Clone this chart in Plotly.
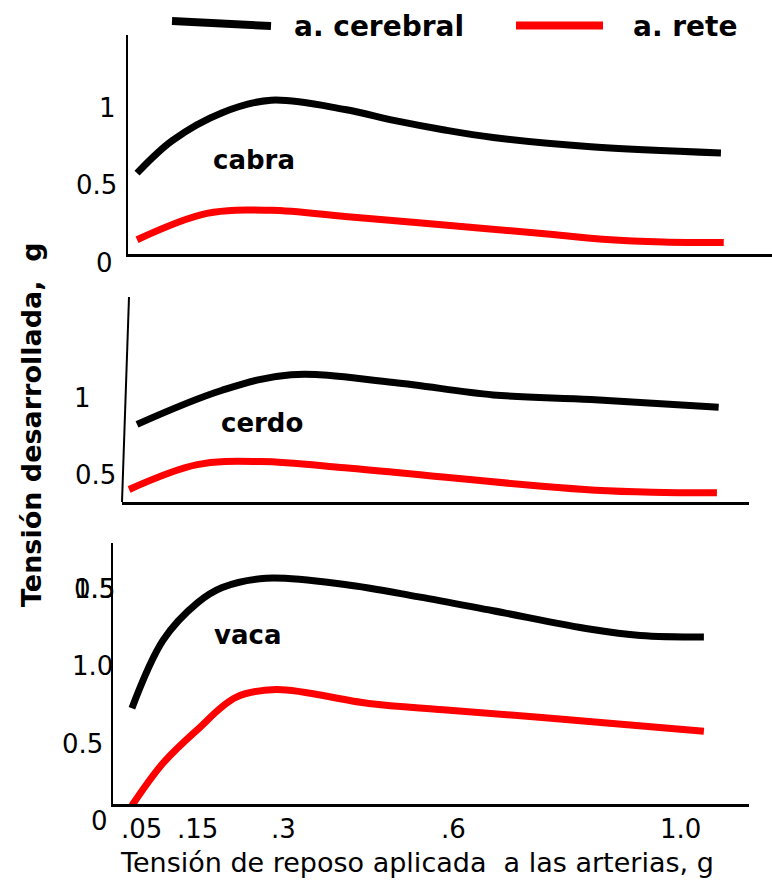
import plotly.graph_objects as go

# ---------------- data ----------------
x_cabra_cer = [0.043, 0.105, 0.193, 0.279, 0.409, 0.495, 0.582, 0.670, 0.842, 1.071]
y_cabra_cer = [0.58, 0.79, 0.97, 1.05, 0.99, 0.92, 0.86, 0.81, 0.75, 0.71]
x_cabra_rete = [0.043, 0.166, 0.279, 0.409, 0.539, 0.756, 0.87, 0.97, 1.076]
y_cabra_rete = [0.15, 0.32, 0.34, 0.30, 0.26, 0.19, 0.152, 0.136, 0.132]

x_cerdo_cer = [0.043, 0.193, 0.314, 0.495, 0.670, 0.842, 1.067]
y_cerdo_cer = [0.83, 1.05, 1.15, 1.10, 1.02, 0.99, 0.94]
x_cerdo_rete = [0.029, 0.149, 0.261, 0.409, 0.582, 0.756, 0.85, 0.95, 1.064]
y_cerdo_rete = [0.41, 0.57, 0.59, 0.55, 0.49, 0.43, 0.405, 0.392, 0.388]

x_vaca_cer = [0.034, 0.089, 0.149, 0.193, 0.270, 0.409, 0.539, 0.670, 0.842, 0.929, 1.041]
y_vaca_cer = [0.73, 1.17, 1.41, 1.51, 1.57, 1.53, 1.45, 1.36, 1.24, 1.20, 1.19]
x_vaca_rete = [0.034, 0.089, 0.149, 0.217, 0.288, 0.451, 0.582, 0.756, 1.041]
y_vaca_rete = [0.10, 0.375, 0.59, 0.80, 0.85, 0.76, 0.72, 0.67, 0.58]

x_tick_vals = [0.05, 0.15, 0.3, 0.6, 1.0]
x_tick_text = [".05", ".15", ".3", ".6", "1.0"]

y_ticks_cabra = [0, 0.5, 1]
y_ticks_cabra_text = ["0", "0.5", "1"]
y_ticks_cerdo = [0.5, 1]
y_ticks_cerdo_text = ["0.5", "1"]
y_ticks_vaca = [0, 0.5, 1.0, 1.5, 1.5]
y_ticks_vaca_text = ["0", "0.5", "1.0", "1.5", "0.5"]

series_names = ["a. cerebral", "a. rete"]
panel_names = ["cabra", "cerdo", "vaca"]

# ---------------- style ----------------
W, H = 772, 880
FONT = "DejaVu Sans, sans-serif"
BLACK = "#000000"
RED = "#ff0000"
LW = 7


def px(x):
    return x / W


def py(y):
    return 1 - y / H


fig = go.Figure()

panels = [
    (x_cabra_cer, y_cabra_cer, x_cabra_rete, y_cabra_rete, "x", "y"),
    (x_cerdo_cer, y_cerdo_cer, x_cerdo_rete, y_cerdo_rete, "x2", "y2"),
    (x_vaca_cer, y_vaca_cer, x_vaca_rete, y_vaca_rete, "x3", "y3"),
]
for xc, yc, xr_, yr_, xa, ya in panels:
    fig.add_trace(go.Scatter(x=xc, y=yc, mode="lines", xaxis=xa, yaxis=ya,
                             line=dict(color=BLACK, width=LW, shape="spline", smoothing=1.0),
                             showlegend=False, hoverinfo="skip"))
    fig.add_trace(go.Scatter(x=xr_, y=yr_, mode="lines", xaxis=xa, yaxis=ya,
                             line=dict(color=RED, width=LW, shape="spline", smoothing=1.0),
                             showlegend=False, hoverinfo="skip"))

# x mapping: 0 -> 112.6 px, 568 px per unit
X0, XS = 112.6, 568.0


def xr(L, R):
    return [(L - X0) / XS, (R - X0) / XS]


common_x = dict(showgrid=False, zeroline=False, showticklabels=False, ticks="",
                showline=True, linecolor=BLACK, linewidth=2.5, fixedrange=True)
common_y = dict(showgrid=False, zeroline=False, showticklabels=False, ticks="", fixedrange=True)

y_dom = {
    "y": [py(254), py(35)],
    "y2": [py(502), py(297)],
    "y3": [py(804), py(543)],
}
y_rng = {
    "y": [(263 - 254) / 155, (263 - 35) / 155],
    "y2": [(553 - 502) / 155, (553 - 297) / 155],
    "y3": [(821 - 804) / 154.6, (821 - 543) / 154.6],
}

fig.update_layout(
    width=W, height=H,
    margin=dict(l=0, r=0, t=0, b=0),
    paper_bgcolor="white", plot_bgcolor="white",
    font=dict(family=FONT, color=BLACK),
    xaxis=dict(domain=[px(128), px(772)], range=xr(128, 772), anchor="y", **common_x),
    yaxis=dict(domain=y_dom["y"], range=y_rng["y"], anchor="x",
               showline=True, linecolor=BLACK, linewidth=2, **common_y),
    xaxis2=dict(domain=[px(122), px(749)], range=xr(122, 749), anchor="y2", **common_x),
    yaxis2=dict(domain=y_dom["y2"], range=y_rng["y2"], anchor="x2",
                showline=False, **common_y),
    xaxis3=dict(domain=[px(113), px(749)], range=xr(113, 749), anchor="y3", **common_x),
    yaxis3=dict(domain=y_dom["y3"], range=y_rng["y3"], anchor="x3",
                showline=True, linecolor=BLACK, linewidth=2, **common_y),
)


def val_to_paper(v, ax):
    """Map a value on y-axis `ax` to paper coordinates (same linear map as the axis)."""
    d0, d1 = y_dom[ax]
    r0, r1 = y_rng[ax]
    return d0 + (v - r0) / (r1 - r0) * (d1 - d0)


# slanted hand-drawn y axis of the middle panel
fig.add_shape(type="line", xref="paper", yref="paper",
              x0=px(129), y0=py(297), x1=px(122), y1=py(502),
              line=dict(color=BLACK, width=2))

annotations = []
TICK_FONT = dict(family=FONT, size=26, color=BLACK)

# y tick labels (placed on each panel's own y scale)
for ticks, texts, xs, ax in [
    (y_ticks_cabra, y_ticks_cabra_text, [104, 96, 107], "y"),
    (y_ticks_cerdo, y_ticks_cerdo_text, [95, 82], "y2"),
    (y_ticks_vaca, y_ticks_vaca_text, [99, 82, 92, 94, 94], "y3"),
]:
    for v, t, xp in zip(ticks, texts, xs):
        annotations.append(dict(x=px(xp), xref="paper", y=val_to_paper(v, ax), yref="paper",
                                text=t, showarrow=False, xanchor="center", yanchor="middle",
                                font=TICK_FONT))

# x tick labels (bottom panel)
for v, t in zip(x_tick_vals, x_tick_text):
    annotations.append(dict(x=v, xref="x3", y=py(829), yref="paper", text=t, showarrow=False,
                            xanchor="center", yanchor="middle", font=TICK_FONT))

# axis titles
annotations.append(dict(x=px(417), xref="paper", y=py(862), yref="paper",
                        text="Tensión de reposo aplicada\u00a0 a las arterias, g", showarrow=False,
                        xanchor="center", yanchor="middle",
                        font=dict(family=FONT, size=27, color=BLACK)))
annotations.append(dict(x=px(32), xref="paper", y=py(425), yref="paper",
                        text="<b>Tensión desarrollada,\u00a0 g</b>", showarrow=False, textangle=-90,
                        xanchor="center", yanchor="middle",
                        font=dict(family=FONT, size=27, color=BLACK)))

# panel labels
for name, (xp, yp) in zip(panel_names, [(254, 160), (262, 423), (247, 635)]):
    annotations.append(dict(x=px(xp), xref="paper", y=py(yp), yref="paper",
                            text="<b>" + name + "</b>", showarrow=False,
                            xanchor="center", yanchor="middle",
                            font=dict(family=FONT, size=26, color=BLACK)))

# legend (drawn manually: long line samples)
fig.add_shape(type="line", xref="paper", yref="paper", x0=px(172), y0=py(21), x1=px(271), y1=py(26),
              line=dict(color=BLACK, width=8))
fig.add_shape(type="line", xref="paper", yref="paper", x0=px(516), y0=py(25.5), x1=px(603), y1=py(25.5),
              line=dict(color=RED, width=8))
for name, xp in zip(series_names, [292, 631]):
    annotations.append(dict(x=px(xp), xref="paper", y=py(27), yref="paper",
                            text="<b>" + name + "</b>", showarrow=False,
                            xanchor="left", yanchor="middle",
                            font=dict(family=FONT, size=28, color=BLACK)))

fig.update_layout(annotations=annotations)
fig.write_html("out.html", config={"displayModeBar": False},
               post_script="document.body.style.margin='0';document.body.style.overflow='hidden';")
